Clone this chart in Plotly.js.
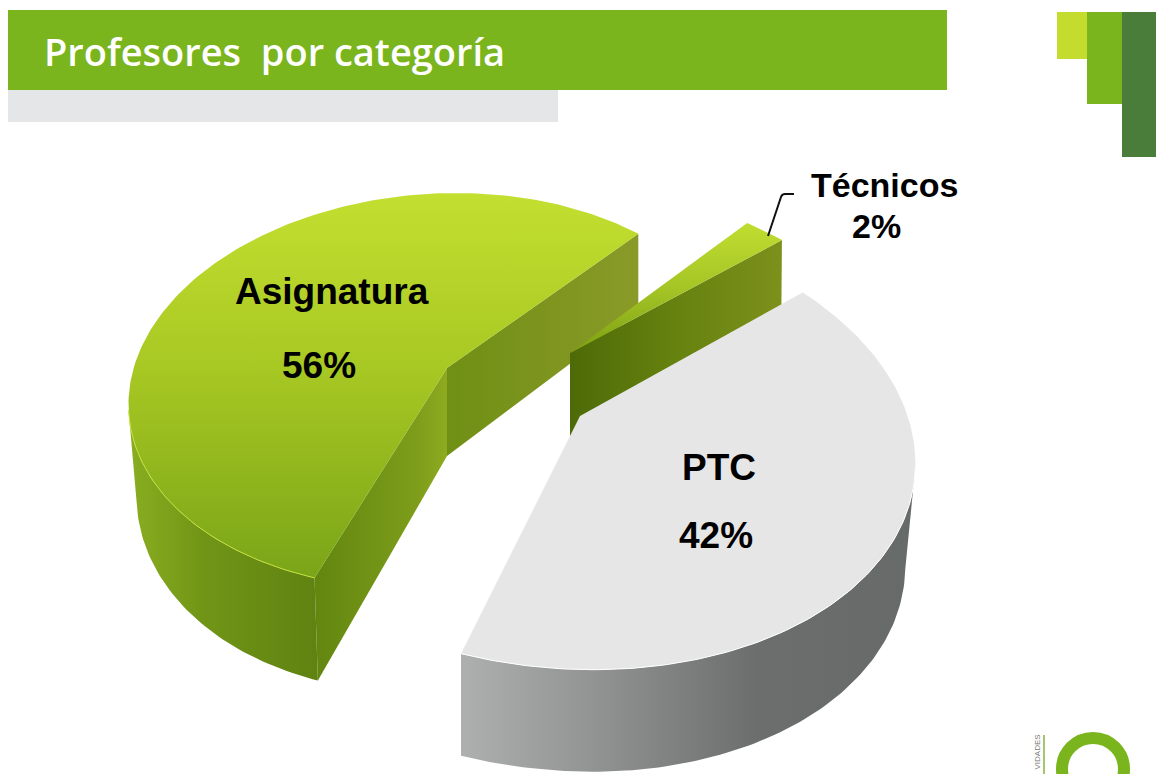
<!DOCTYPE html>
<html><head><meta charset="utf-8"><style>html,body{margin:0;padding:0;background:#fff;overflow:hidden}</style>
<script src="https://cdn.plot.ly/plotly-3.0.0.min.js"></script></head><body><div id="chart"></div>
<script>
const categories = ['Asignatura', 'PTC', 'Técnicos'];
const values = [56, 42, 2];
const titleText = 'Profesores  por categoría';

// Projection of each exploded 3-D slice onto the page
const startAngle = 47.6;
const view = {
  Asignatura: {c:[447,368], v:[304.4,9.1,6.7,195.1,.034,.115], dep:88, depK:.07, shrink:.025, shrinkSide:-1, sideFrom:190, sideTo:249.2},
  PTC:        {c:[580,416], v:[347.9,-22.4,-6.3,221.6,.056,.126], dep:102, depK:0, shrink:.03, shrinkSide:1, sideFrom:249.2, sideTo:348},
  'Técnicos': {c:[570,353], v:[359,-62,-13,207,.034,.115], dep:87, depK:.17, shrink:.015, shrinkSide:1}
};
const paint = {
  Asignatura: {top:[[0,'#7aa518'],[.55,'#a8c823'],[1,'#c3df30']],
    side:[[0,'#8aae20'],[.4,'#709516'],[1,'#5f8211']],
    near:[[0,'#62860f'],[.75,'#7c9c1a'],[1,'#8eaa20']],
    far:[[0,'#6f9014'],[.6,'#7f9520'],[1,'#8a9a28']], edge:'#c4e03c'},
  PTC: {top:[[0,'#e6e6e7'],[1,'#e6e6e7']],
    side:[[0,'#aeb0af'],[.3,'#919392'],[.65,'#6b6e6c'],[1,'#666a68']], edge:'#ffffff'},
  'Técnicos': {top:[[0,'#7c9f12'],[.5,'#a5c526'],[1,'#c0dd30']],
    far:[[0,'#4d6a08'],[.5,'#66820f'],[1,'#7d901c']]}
};

const rad = Math.PI/180;
function project(g, t, lower) {
  const c = Math.cos(t*rad), s = Math.sin(t*rad), v = g.v, w = 1 + v[4]*c + v[5]*s;
  const X = (v[0]*c + v[1]*s)/w, Y = (v[2]*c + v[3]*s)/w;
  if (!lower) return [g.c[0]+X, g.c[1]-Y];
  const onSide = X*g.shrinkSide > 0;
  const fade = Y > 0 ? Math.max(0, 1 - Y/136) : 1;
  const k = onSide ? g.shrink*fade : 0;
  return [g.c[0] + X*(1-k), g.c[1] - Y + g.dep - g.depK*Y];
}
const centre = (g, lower) => lower ? [g.c[0], g.c[1]+g.dep] : g.c;
function range(a, b) { const o=[]; const n=Math.max(2,Math.ceil(b-a)); for(let i=0;i<=n;i++) o.push(a+(b-a)*i/n); return o; }

function poly(name, pts, colorscale, type) {
  return {type:'scatter', mode:'lines', name, hoverinfo:'name', showlegend:false,
    x:pts.map(p=>p[0]), y:pts.map(p=>p[1]), line:{width:0, color:'rgba(0,0,0,0)'}, fill:'toself',
    fillgradient:{type, colorscale}};
}

// angular spans from the values (counter-clockwise)
const total = values.reduce((a,b)=>a+b,0);
const spans = {}; let acc = startAngle;
categories.forEach((n,i)=>{ const d=values[i]/total*360; spans[n]=[acc,acc+d]; acc+=d; });

function sliceTraces(n) {
  const g=view[n], [a,b]=spans[n], p=paint[n], out=[];
  const wall=(t)=>[centre(g,false),project(g,t,false),project(g,t,true),centre(g,true)];
  if(p.far) out.push(poly(n,wall(a),p.far,'horizontal'));
  if(p.near) out.push(poly(n,wall(b),p.near,'horizontal'));
  if(p.side){
    const s=range(g.sideFrom,g.sideTo);
    out.push(poly(n,s.map(t=>project(g,t,false)).concat(s.slice().reverse().map(t=>project(g,t,true))),p.side,'horizontal'));
  }
  out.push(poly(n,[centre(g,false)].concat(range(a,b).map(t=>project(g,t,false))),p.top,'vertical'));
  if(p.edge){
    const e=range(g.sideFrom,g.sideTo).map(t=>project(g,t,false));
    out.push({type:'scatter',mode:'lines',hoverinfo:'skip',showlegend:false,x:e.map(q=>q[0]),y:e.map(q=>q[1]),line:{width:1,color:p.edge}});
  }
  return out;
}
const traces=[...sliceTraces('Asignatura'),...sliceTraces('Técnicos'),...sliceTraces('PTC')];

const labelPos={Asignatura:[[332,291],[319,365]],PTC:[[719,467],[716,535]],'Técnicos':[[884,185],[876,226]]};
const labelSize={Asignatura:37,PTC:37,'Técnicos':34};
const annotations=[];
categories.forEach((n,i)=>{
  const q=labelPos[n];
  [n,values[i]+'%'].forEach((t,j)=>annotations.push({x:q[j][0],y:q[j][1],xref:'x',yref:'y',text:t,showarrow:false,xanchor:'center',yanchor:'middle',
    font:{family:'"Liberation Sans",Arial,sans-serif',size:labelSize[n],color:'#000',weight:700}}));
});
annotations.push({x:1037,y:733,xref:'x',yref:'y',text:'VIDADES',showarrow:false,textangle:-90,xanchor:'center',yanchor:'top',font:{family:'"Liberation Sans",Arial,sans-serif',size:8,color:'#777'}});

const rect=(x0,y0,x1,y1,c)=>({type:'rect',xref:'x',yref:'y',x0,y0,x1,y1,fillcolor:c,line:{width:0},layer:'below'});
const shapes=[
  rect(8,10,947,90,'#7ab51d'), rect(8,90,558,122,'#e5e6e8'),
  rect(1057,12,1087,59,'#c3dc2e'), rect(1087,12,1122,104,'#7ab51d'), rect(1122,12,1156,157,'#4a7c3a'),
  {type:'path',xref:'x',yref:'y',path:'M768,236 L781,197 Q782,194 785,194 L794,194',line:{color:'#111',width:2}},
  {type:'line',xref:'x',yref:'y',x0:1044,y0:735,x1:1044,y1:774,line:{color:'#a9c56a',width:2}},
  {type:'circle',xref:'x',yref:'y',x0:1062,y0:738,x1:1124,y1:800,line:{color:'#7ab51d',width:12}}
];

Plotly.newPlot('chart',traces,{
  width:1156,height:774,margin:{l:0,r:0,t:0,b:0},paper_bgcolor:'#fff',plot_bgcolor:'#fff',showlegend:false,
  title:{text:titleText,x:44/1156,xanchor:'left',xref:'paper',y:1-53/774,yanchor:'middle',yref:'paper',
    font:{family:'"Open Sans",sans-serif',size:38,color:'#fff',weight:600}},
  xaxis:{range:[0,1156],visible:false,fixedrange:true},
  yaxis:{range:[774,0],visible:false,fixedrange:true},
  shapes,annotations
},{displayModeBar:false,staticPlot:true});
</script></body></html>
